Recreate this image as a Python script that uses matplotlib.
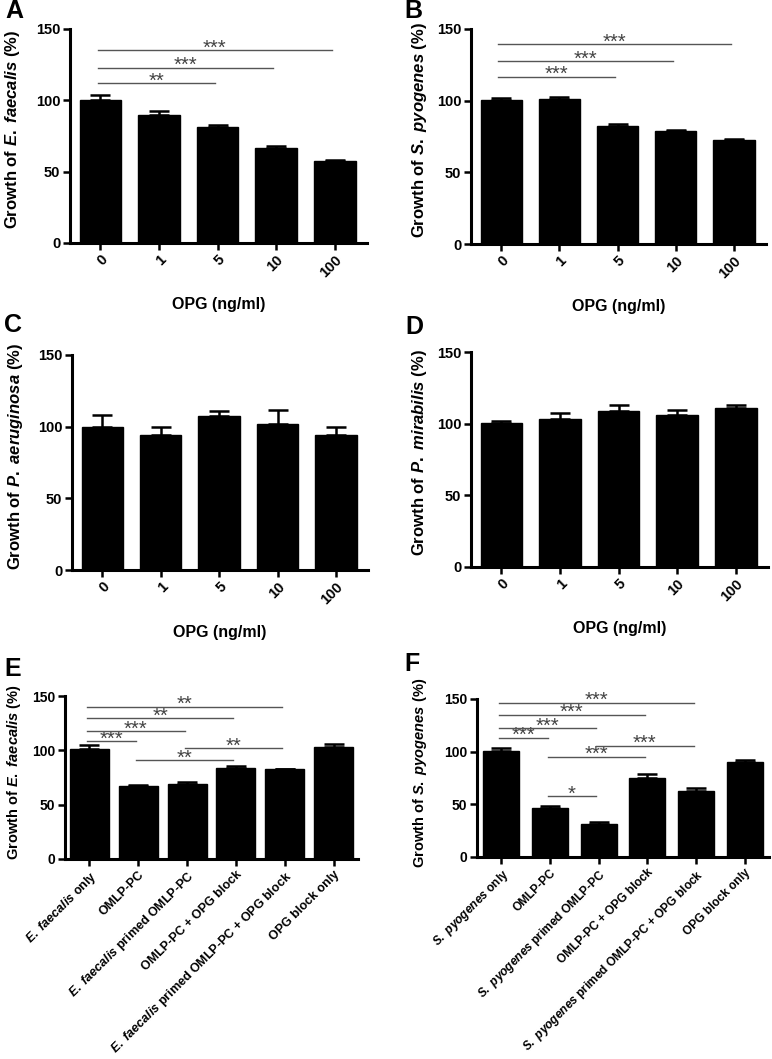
import matplotlib
matplotlib.use('Agg')
import matplotlib.pyplot as plt
import numpy as np

plt.rcParams['font.family'] = ['Liberation Sans', 'DejaVu Sans']
plt.rcParams['font.weight'] = 'bold'
plt.rcParams['mathtext.fontset'] = 'custom'
plt.rcParams['mathtext.it'] = 'Liberation Sans:italic:bold'
plt.rcParams['mathtext.rm'] = 'Liberation Sans:bold'
plt.rcParams['mathtext.bf'] = 'Liberation Sans:bold'

# ---------------- data ----------------
doses = ['0', '1', '5', '10', '100']

A_mean = [100.5, 89.5, 81.3, 66.4, 57.7]
A_err = [3.5, 3.3, 1.7, 1.8, 0.3]
B_mean = [100.7, 101.4, 82.0, 78.8, 72.8]
B_err = [1.3, 1.4, 2.0, 0.5, 0.4]
C_mean = [100.0, 94.2, 107.7, 101.9, 94.0]
C_err = [8.0, 5.3, 3.3, 9.7, 6.0]
D_mean = [100.3, 103.0, 108.5, 105.7, 111.0]
D_err = [1.9, 4.3, 4.6, 3.9, 2.1]

E_groups = ['$\\mathit{E.\\ faecalis}$ only', 'OMLP-PC',
            '$\\mathit{E.\\ faecalis}$ primed OMLP-PC', 'OMLP-PC + OPG block',
            '$\\mathit{E.\\ faecalis}$ primed OMLP-PC + OPG block', 'OPG block only']
E_mean = [100.9, 66.9, 69.0, 83.7, 82.5, 103.0]
E_err = [3.7, 1.5, 1.6, 1.9, 0.3, 3.0]

F_groups = ['$\\mathit{S.\\ pyogenes}$ only', 'OMLP-PC',
            '$\\mathit{S.\\ pyogenes}$ primed OMLP-PC', 'OMLP-PC + OPG block',
            '$\\mathit{S.\\ pyogenes}$ primed OMLP-PC + OPG block', 'OPG block only']
F_mean = [100.3, 46.8, 31.6, 75.0, 63.0, 89.9]
F_err = [3.5, 1.3, 1.3, 3.5, 2.5, 2.5]

# significance brackets: (from, to, height, label)
A_sig = [(0, 2, 112.0, '**'), (0, 3, 123.0, '***'), (0, 4, 135.0, '***')]
B_sig = [(0, 2, 116.7, '***'), (0, 3, 127.4, '***'), (0, 4, 139.5, '***')]
E_sig = [(0, 1, 108.6, '***'), (0, 2, 117.8, '***'), (0, 3, 129.8, '**'),
         (0, 4, 140.2, '**'), (1, 3, 91.1, '**'), (2, 4, 102.1, '**')]
F_sig = [(0, 1, 113.3, '***'), (0, 2, 122.5, '***'), (0, 3, 135.1, '***'),
         (0, 4, 146.5, '***'), (1, 3, 95.3, '***'), (2, 4, 105.7, '***'),
         (1, 2, 57.9, '*')]

ylabels = {
    'A': 'Growth of $\\mathit{E.\\ faecalis}$ (%)',
    'B': 'Growth of $\\mathit{S.\\ pyogenes}$ (%)',
    'C': 'Growth of $\\mathit{P.\\ aeruginosa}$ (%)',
    'D': 'Growth of $\\mathit{P.\\ mirabilis}$ (%)',
    'E': 'Growth of $\\mathit{E.\\ faecalis}$ (%)',
    'F': 'Growth of $\\mathit{S.\\ pyogenes}$ (%)',
}
yticks = [0, 50, 100, 150]

# ---------------- layout ----------------
W, H = 772, 1059
fig = plt.figure(figsize=(W / 100, H / 100), dpi=100)


def add_ax(l, t, r, b):
    return fig.add_axes([l / W, 1 - b / H, (r - l) / W, (b - t) / H])


def panel(box, cats, mean, err, ylabel, sig, xlim, width, tickfs, xtickfs,
          ylabfs, ylab_off, cap, xlabel=None):
    ax = add_ax(*box)
    x = np.arange(len(cats))
    ax.bar(x, mean, width=width, color='black', edgecolor='black', zorder=2)
    ax.errorbar(x, mean, yerr=[np.zeros(len(mean)), err], fmt='none',
                ecolor='black', elinewidth=1.8, capsize=cap, capthick=1.8,
                zorder=1)
    ax.set_xlim(*xlim)
    ax.set_ylim(0, 150)
    ax.set_yticks(yticks)
    ax.set_yticklabels([str(v) for v in yticks], fontsize=tickfs,
                       fontweight='bold')
    ax.set_xticks(x)
    ax.set_xticklabels(cats, fontsize=xtickfs, fontweight='bold', rotation=45,
                       ha='right', rotation_mode='anchor')
    for s in ['top', 'right']:
        ax.spines[s].set_visible(False)
    for s in ['left', 'bottom']:
        ax.spines[s].set_linewidth(2.2)
    ax.tick_params(axis='both', direction='out', length=5, width=1.8, pad=2)
    ax.set_ylabel(ylabel, fontsize=ylabfs, fontweight='bold')
    boxw = box[2] - box[0]
    ax.yaxis.set_label_coords(ylab_off / boxw, 0.53)
    for (i, j, h, lab) in sig:
        ax.plot([i - 0.05, j - 0.05], [h, h], color='#555555', lw=1.0,
                zorder=3, clip_on=False)
        ax.annotate(lab, xy=((i + j) / 2 - 0.05, h), xytext=(0, -2.5),
                    textcoords='offset points', ha='center', va='baseline',
                    fontsize=14.5, fontweight='normal', color='#444444',
                    annotation_clip=False)
    if xlabel is not None:
        boxh = box[3] - box[1]
        ax.text(0.5, -62 / boxh, xlabel, transform=ax.transAxes,
                ha='center', va='center', fontsize=11.5, fontweight='bold')
    return ax


xl5 = (-0.52, 4.55)
xl6 = (-0.5, 5.5)
panel((70, 29, 367, 243), doses, A_mean, A_err, ylabels['A'], A_sig, xl5, 0.71,
      10.5, 10.5, 12, -48, 7.5, 'OPG (ng/ml)')
panel((471, 29, 766, 244), doses, B_mean, B_err, ylabels['B'], B_sig, xl5, 0.71,
      10.5, 10.5, 12, -42, 7.5, 'OPG (ng/ml)')
panel((72, 355, 368, 570), doses, C_mean, C_err, ylabels['C'], [], xl5, 0.71,
      10.5, 10.5, 12, -47, 7.5, 'OPG (ng/ml)')
panel((471, 352, 768, 567), doses, D_mean, D_err, ylabels['D'], [], xl5, 0.71,
      10.5, 10.5, 12, -42, 7.5, 'OPG (ng/ml)')
panel((65, 696, 358, 859), E_groups, E_mean, E_err, ylabels['E'], E_sig, xl6, 0.8,
      10, 9, 10.5, -42, 7)
panel((477, 699, 769, 857), F_groups, F_mean, F_err, ylabels['F'], F_sig, xl6, 0.74,
      10, 8.6, 10.5, -48, 7)

# panel letters (x centre, baseline y in pixels)
letters = [('A', 14, 18), ('B', 413, 18), ('C', 13, 332), ('D', 414, 334),
           ('E', 13, 676), ('F', 412, 671)]
for lab, px, py in letters:
    fig.text(px / W, 1 - py / H, lab, ha='center', va='baseline', fontsize=18,
             fontweight='bold')

fig.savefig('out.png', dpi=100)
